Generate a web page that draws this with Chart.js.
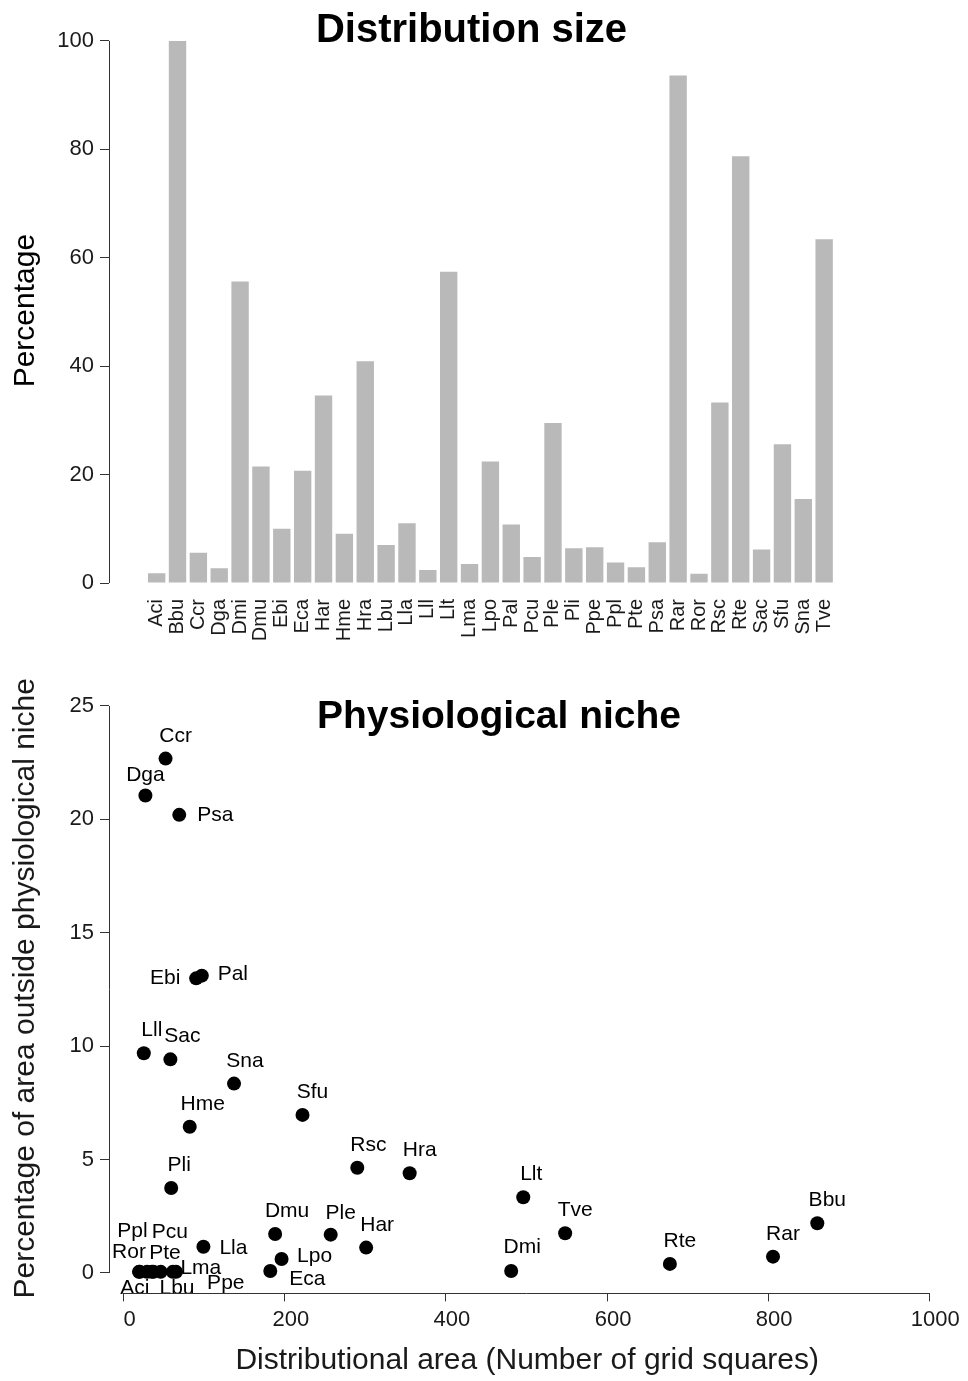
<!DOCTYPE html>
<html>
<head>
<meta charset="utf-8">
<title>Distribution size and physiological niche</title>
<script src="https://cdn.jsdelivr.net/npm/chart.js@4.4.1/dist/chart.umd.min.js"></script>
<style>
  html, body { margin: 0; padding: 0; background: #ffffff; }
  #wrap { position: relative; width: 968px; height: 1381px; overflow: hidden; }
  canvas { position: absolute; left: 0; }
  #bars { top: 0; }
  #niche { top: 660px; }
</style>
</head>
<body>
<div id="wrap">
  <canvas id="bars" width="968" height="660"></canvas>
  <canvas id="niche" width="968" height="721"></canvas>
</div>
<script>
// Species codes (shared by both panels)
const species = ['Aci','Bbu','Ccr','Dga','Dmi','Dmu','Ebi','Eca','Har','Hme','Hra','Lbu','Lla','Lll','Llt','Lma','Lpo',
                 'Pal','Pcu','Ple','Pli','Ppe','Ppl','Pte','Psa','Rar','Ror','Rsc','Rte','Sac','Sfu','Sna','Tve'];

// Distribution size, % of the largest range
const distributionPct = [1.8, 100, 5.6, 2.7, 55.6, 21.5, 10.0, 20.7, 34.6, 9.1, 40.9, 7.0, 11.0, 2.4, 57.4, 3.5, 22.4,
                         10.8, 4.8, 29.5, 6.4, 6.6, 3.8, 2.9, 7.5, 93.6, 1.7, 33.3, 78.7, 6.2, 25.6, 15.5, 63.4];

// Distributional area (number of grid squares)
const areaGridSquares = [20, 861, 52, 27, 481, 188, 90, 182, 301, 82, 355, 65, 99, 25, 496, 35, 196,
                         97, 46, 257, 59, 61, 37, 29, 69, 806, 19, 290, 678, 58, 222, 137, 548];

// Percentage of area outside the physiological niche
const outsideNichePct = [0.05, 2.19, 22.68, 21.05, 0.09, 1.72, 12.99, 0.09, 1.12, 6.45, 4.40, 0.05, 1.16, 9.69, 3.34, 0.05, 0.62,
                         13.11, 0.05, 1.69, 3.75, 0.05, 0.05, 0.05, 20.2, 0.72, 0.05, 4.64, 0.40, 9.42, 6.97, 8.35, 1.75];

// Axis ticks
const pctTicks = [0, 20, 40, 60, 80, 100];
const areaTicks = [0, 200, 400, 600, 800, 1000];
const nicheTicks = [0, 5, 10, 15, 20, 25];

// Point-label placement, pixel offset of the label (centre, baseline) from its point
const labelOffsets = [
  [-5, 22], [10, -17], [10, -17], [0, -15], [11, -18], [12, -17], [-31, 6], [37, 14], [11, -17], [13, -17], [10, -17],
  [1, 22], [30, 7], [8, -17], [8, -17], [49, 2], [33, 3], [31, 4], [9, -34], [10, -16], [8, -17], [53, 17],
  [-21, -35], [18, -13], [36, 6], [10, -17], [-10, -14], [11, -17], [10, -17], [12, -17], [10, -17], [11, -17], [10, -17]
];

const FONT = "'Liberation Sans', Arial, Helvetica, sans-serif";
const INK = '#1a1a1a';
const AXIS = '#333333';

Chart.defaults.font.family = FONT;
Chart.defaults.color = INK;

// Free text drawn on top of a chart (panel headings, rotated axis title)
function freeText(id, text, x, y, font, rotate) {
  return {
    id,
    afterDraw(chart) {
      const ctx = chart.ctx;
      ctx.save();
      ctx.font = font;
      ctx.fillStyle = '#000';
      ctx.textAlign = 'center';
      ctx.textBaseline = rotate ? 'middle' : 'alphabetic';
      ctx.translate(x, y);
      if (rotate) ctx.rotate(-Math.PI / 2);
      ctx.fillText(text, 0, 0);
      ctx.restore();
    }
  };
}

// Axis lines that run only from the first to the last tick
function tickSpanAxes(drawX) {
  return {
    id: 'tickSpanAxes',
    afterDraw(chart) {
      const ctx = chart.ctx;
      const a = chart.chartArea;
      const ys = chart.scales.y;
      const yt = ys.ticks;
      ctx.save();
      ctx.strokeStyle = AXIS;
      ctx.lineWidth = 1;
      ctx.beginPath();
      const lx = Math.round(a.left) + 0.5;
      ctx.moveTo(lx, ys.getPixelForValue(yt[0].value));
      ctx.lineTo(lx, ys.getPixelForValue(yt[yt.length - 1].value));
      if (drawX) {
        const xs = chart.scales.x;
        const xt = xs.ticks;
        const by = Math.round(a.bottom) + 0.5;
        ctx.moveTo(xs.getPixelForValue(xt[0].value), by);
        ctx.lineTo(xs.getPixelForValue(xt[xt.length - 1].value), by);
      }
      ctx.stroke();
      ctx.restore();
    }
  };
}

// Species codes next to the points of the niche plot
const pointLabels = {
  id: 'pointLabels',
  afterDatasetsDraw(chart) {
    const ctx = chart.ctx;
    const meta = chart.getDatasetMeta(0);
    ctx.save();
    ctx.font = `21px ${FONT}`;
    ctx.fillStyle = '#000';
    ctx.textAlign = 'center';
    ctx.textBaseline = 'alphabetic';
    meta.data.forEach((pt, i) => {
      const off = labelOffsets[i];
      ctx.fillText(species[i], pt.x + off[0], pt.y + off[1]);
    });
    ctx.restore();
  }
};

const yTickStyle = {
  grid: { display: true, drawOnChartArea: false, drawTicks: true, tickLength: 9, color: AXIS, lineWidth: 1 },
  border: { display: false },
};

// ---- Distribution size (bar chart) ----
new Chart(document.getElementById('bars'), {
  type: 'bar',
  data: {
    datasets: [{
      data: species.map((s, i) => ({ x: i, y: distributionPct[i] })),
      backgroundColor: '#b9b9b9',
      borderWidth: 0,
      categoryPercentage: 1,
      barPercentage: 1 / 1.2,
    }]
  },
  options: {
    responsive: false,
    animation: false,
    events: [],
    layout: { padding: { top: 16.5, right: 96.2, left: 0, bottom: 0 } },
    plugins: { legend: { display: false }, tooltip: { enabled: false } },
    scales: {
      x: {
        type: 'linear',
        min: -1.73,
        max: 33.73,
        grid: { display: false, drawTicks: false },
        border: { display: false },
        afterBuildTicks: (s) => { s.ticks = species.map((_, i) => ({ value: i })); },
        afterFit: (s) => { s.height = 660 - 583; },
        ticks: {
          autoSkip: false,
          minRotation: 90,
          maxRotation: 90,
          padding: 16,
          font: { size: 20 },
          color: INK,
          callback: (v) => species[v],
        },
      },
      y: {
        min: 0,
        max: 104,
        ...yTickStyle,
        afterBuildTicks: (s) => { s.ticks = pctTicks.map(v => ({ value: v })); },
        afterFit: (s) => { s.width = 109; },
        ticks: { padding: 6, font: { size: 22 }, color: INK },
      }
    }
  },
  plugins: [
    freeText('panelTitle', 'Distribution size', 471.5, 41.7, `bold 40px ${FONT}`, false),
    freeText('yTitle', 'Percentage', 26, 310.6, `30px ${FONT}`, true),
    tickSpanAxes(false)
  ]
});

// ---- Physiological niche (scatter) ----
new Chart(document.getElementById('niche'), {
  type: 'scatter',
  data: {
    datasets: [{
      data: species.map((s, i) => ({ x: areaGridSquares[i], y: outsideNichePct[i] })),
      backgroundColor: '#000000',
      borderWidth: 0,
      pointRadius: 7,
    }]
  },
  options: {
    responsive: false,
    animation: false,
    events: [],
    layout: { padding: { top: 23.3, right: 22.6, left: 0, bottom: 0 } },
    plugins: { legend: { display: false }, tooltip: { enabled: false } },
    scales: {
      x: {
        type: 'linear',
        min: -18.2,
        max: 1020,
        grid: { display: true, drawOnChartArea: false, drawTicks: true, tickLength: 8, color: AXIS, lineWidth: 1 },
        border: { display: false },
        afterBuildTicks: (s) => { s.ticks = areaTicks.map(v => ({ value: v })); },
        afterFit: (s) => { s.height = 721 - 633.4; },
        ticks: { padding: 5, labelOffset: 6, font: { size: 22 }, color: INK, callback: (v) => String(v) },
        title: { display: true, text: 'Distributional area (Number of grid squares)', font: { size: 30 }, color: INK, padding: { top: 0, bottom: 2 } },
      },
      y: {
        min: -0.9,
        max: 26,
        ...yTickStyle,
        afterBuildTicks: (s) => { s.ticks = nicheTicks.map(v => ({ value: v })); },
        afterFit: (s) => { s.width = 109; },
        ticks: { padding: 6, font: { size: 22 }, color: INK },
        title: { display: true, text: 'Percentage of area outside physiological niche', font: { size: 30 }, color: INK, padding: { top: 8, bottom: 0 } },
      }
    }
  },
  plugins: [freeText('panelTitle', 'Physiological niche', 499, 68.3, `bold 39px ${FONT}`, false), tickSpanAxes(true), pointLabels]
});
</script>
</body>
</html>
